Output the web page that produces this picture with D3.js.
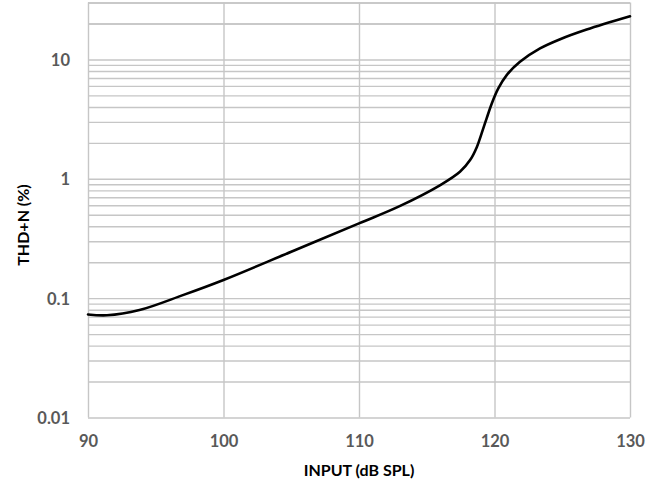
<!DOCTYPE html>
<html><head><meta charset="utf-8">
<script src="https://cdn.jsdelivr.net/npm/d3@7"></script>
<style>
html,body{margin:0;padding:0;background:#fff;}
svg{display:block;}
</style></head>
<body>
<svg id="chart" width="663" height="486"></svg>
<script>
// Data
const inputDbSpl = [90, 91.4, 93.8, 97, 100, 105, 110, 113, 116, 117.45, 118.2, 118.7, 119.05, 119.42, 119.8, 120.28, 120.9, 121.88, 123.36, 124.8, 126.8, 130];
const thdnPct    = [0.073, 0.0718, 0.0795, 0.106, 0.142, 0.245, 0.423, 0.59, 0.886, 1.145, 1.435, 1.85, 2.4, 3.21, 4.28, 5.72, 7.39, 9.55, 12.36, 14.7, 17.8, 23];
const xTicks = [90, 100, 110, 120, 130];
const yTickLabels = [0.01, 0.1, 1, 10];
const xTitle = "INPUT (dB SPL)";
const yTitle = "THD+N (%)";

const W = 663, H = 486;
const m = {left: 88, top: 2.5, right: 33, bottom: 68.5};
const iw = W - m.left - m.right, ih = H - m.top - m.bottom;

const svg = d3.select("#chart");
const g = svg.append("g").attr("transform", `translate(${m.left},${m.top})`);

const x = d3.scaleLinear().domain([90, 130]).range([0, iw]);
const y = d3.scaleLog().domain([0.01, 30]).range([ih, 0]);

// minor grid values
const yGrid = [];
[0.01, 0.1, 1, 10].forEach(d => { for (let k = 1; k <= 9; k++) { const v = +(d * k).toPrecision(3); if (v <= 30) yGrid.push(v); } });
yGrid.push(20, 30);

const gridColor = "#c6c6c6";
const fontFam = "Lato, 'Open Sans', 'Liberation Sans', sans-serif";

// Horizontal grid
g.append("g").attr("class", "ygrid")
  .call(d3.axisLeft(y).tickValues(yGrid).tickSize(-iw).tickFormat(""))
  .call(s => s.select(".domain").remove())
  .call(s => s.selectAll("line").attr("stroke", gridColor).attr("stroke-width", 1.4));

// Vertical grid
g.append("g").attr("class", "xgrid")
  .attr("transform", `translate(0,${ih})`)
  .call(d3.axisBottom(x).tickValues(xTicks).tickSize(-ih).tickFormat(""))
  .call(s => s.select(".domain").remove())
  .call(s => s.selectAll("line").attr("stroke", gridColor).attr("stroke-width", 1.4));

// X tick labels
g.append("g").attr("class", "xaxis")
  .attr("transform", `translate(0,${ih})`)
  .call(d3.axisBottom(x).tickValues(xTicks).tickSize(0).tickPadding(0).tickFormat(d3.format("d")))
  .call(s => s.select(".domain").remove())
  .call(s => s.selectAll("text")
      .attr("dy", null).attr("y", 29.5)
      .attr("fill", "#595959").attr("font-family", fontFam)
      .attr("font-weight", "bold").attr("font-size", "16.5px"));

// Y tick labels
g.append("g").attr("class", "yaxis")
  .call(d3.axisLeft(y).tickValues(yTickLabels).tickSize(0).tickPadding(18).tickFormat(d => String(d)))
  .call(s => s.select(".domain").remove())
  .call(s => s.selectAll("text")
      .attr("dy", "0.36em")
      .attr("fill", "#595959").attr("font-family", fontFam)
      .attr("font-weight", "bold").attr("font-size", "16.5px"));

// Curve
const pts = inputDbSpl.map((v, i) => [v, thdnPct[i]]);
const line = d3.line().x(d => x(d[0])).y(d => y(d[1])).curve(d3.curveCatmullRom.alpha(0.5));
g.append("path").datum(pts)
  .attr("d", line).attr("fill", "none")
  .attr("stroke", "#000").attr("stroke-width", 2.6)
  .attr("stroke-linejoin", "round").attr("stroke-linecap", "round");

// Axis titles
svg.append("text")
  .attr("x", m.left + iw / 2).attr("y", 476)
  .attr("text-anchor", "middle")
  .attr("font-family", fontFam).attr("font-weight", "bold").attr("font-size", "16px")
  .attr("fill", "#000").text(xTitle);

svg.append("text")
  .attr("transform", `translate(29,${m.top + ih / 2 + 15}) rotate(-90)`)
  .attr("text-anchor", "middle")
  .attr("font-family", fontFam).attr("font-weight", "bold").attr("font-size", "16px")
  .attr("fill", "#000").text(yTitle);
</script>
</body></html>
